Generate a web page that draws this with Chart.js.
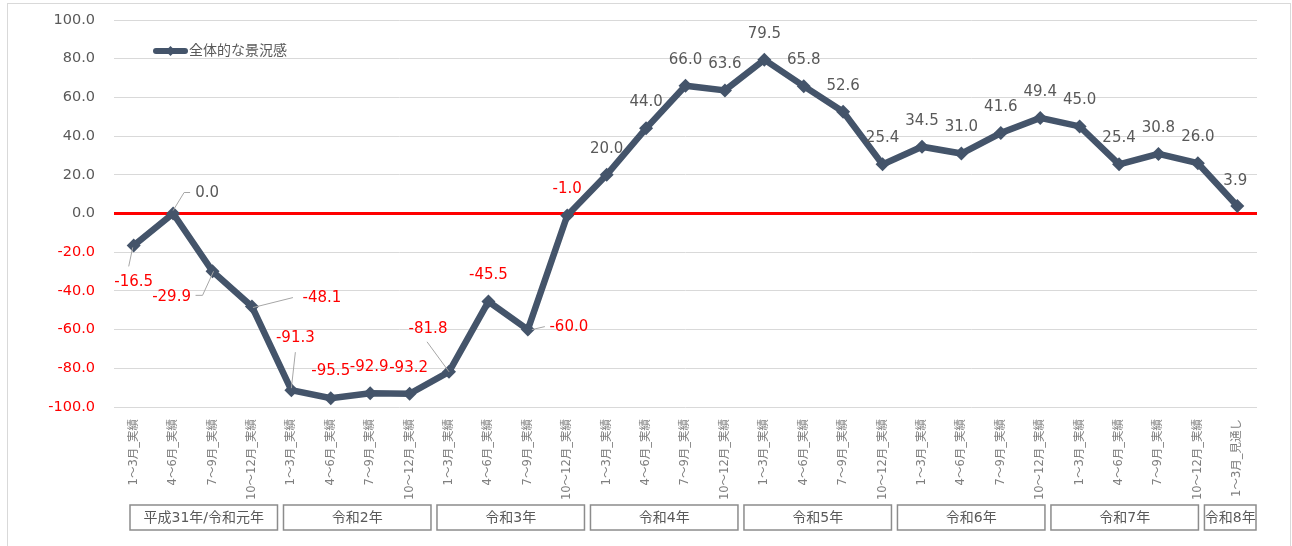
<!DOCTYPE html>
<html>
<head>
<meta charset="utf-8">
<script src="https://cdn.jsdelivr.net/npm/chart.js@4.4.0/dist/chart.umd.min.js"></script>
<style>
  body { margin: 0; background: #fff; }
  #wrap { position: relative; width: 1292px; height: 546px; }
</style>
</head>
<body>
<div id="wrap"><canvas id="dichart" width="1292" height="546"></canvas></div>
<script>
// 四半期ラベル
const quarters = [
    '1～3月_実績', '4～6月_実績', '7～9月_実績', '10～12月_実績',
    '1～3月_実績', '4～6月_実績', '7～9月_実績', '10～12月_実績',
    '1～3月_実績', '4～6月_実績', '7～9月_実績', '10～12月_実績',
    '1～3月_実績', '4～6月_実績', '7～9月_実績', '10～12月_実績',
    '1～3月_実績', '4～6月_実績', '7～9月_実績', '10～12月_実績',
    '1～3月_実績', '4～6月_実績', '7～9月_実績', '10～12月_実績',
    '1～3月_実績', '4～6月_実績', '7～9月_実績', '10～12月_実績',
    '1～3月_見通し'
];
const years = ['平成31年/令和元年', '令和2年', '令和3年', '令和4年', '令和5年', '令和6年', '令和7年', '令和8年'];
const yearCounts = [4, 4, 4, 4, 4, 4, 4, 1];
const diValues = [
    -16.5, 0.0, -29.9, -48.1,
    -91.3, -95.5, -92.9, -93.2,
    -81.8, -45.5, -60.0, -1.0,
    20.0, 44.0, 66.0, 63.6,
    79.5, 65.8, 52.6, 25.4,
    34.5, 31.0, 41.6, 49.4,
    45.0, 25.4, 30.8, 26.0,
    3.9
];
const seriesName = '全体的な景況感';

// label placement (dx, dy from the point) and leader lines, styling only
const labelShift = {
    0: [0, 37], 1: [34, -20], 2: [-41, 26], 3: [70, -8], 4: [4, -52],
    5: [0, -27], 6: [-1, -26], 7: [-1, -26], 8: [-21, -43], 10: [41, -2],
    28: [-2, -25]
};
const leaders = {
    0: [[-5, 21], [-1, 2]],
    1: [[17, -21], [11, -21], [0, -3]],
    2: [[-17, 24], [-10, 24], [1, 0]],
    3: [[41, -9], [1, 1]],
    4: [[4, -38], [0, -2]],
    8: [[-22, -30], [0, 0]],
    10: [[17, -3], [4, 0]]
};

const GRAY = '#595959';
const RED = '#ff0000';
const LINE = '#44546a';
const FONT = '"DejaVu Sans", "Noto Sans CJK JP", sans-serif';

const extras = {
    id: 'extras',
    beforeDraw(chart) {
        const c = chart.ctx;
        c.save();
        c.strokeStyle = '#d9d9d9';
        c.lineWidth = 1;
        c.strokeRect(7.5, 3.5, 1283, 600);
        c.restore();
    },
    afterDatasetsDraw(chart) {
        const c = chart.ctx;
        const meta = chart.getDatasetMeta(0);
        c.save();
        // leader lines
        c.strokeStyle = '#a6a6a6';
        c.lineWidth = 1;
        Object.keys(leaders).forEach(function(k) {
            const p = meta.data[k];
            const pts = leaders[k];
            c.beginPath();
            pts.forEach(function(q, j) {
                if (j === 0) c.moveTo(p.x + q[0], p.y + q[1]);
                else c.lineTo(p.x + q[0], p.y + q[1]);
            });
            c.stroke();
        });
        // data labels
        c.font = '15px ' + FONT;
        c.textAlign = 'center';
        c.textBaseline = 'middle';
        meta.data.forEach(function(p, i) {
            const v = diValues[i];
            const s = labelShift[i] || [0, -26];
            c.fillStyle = v < 0 ? RED : GRAY;
            c.fillText(v.toFixed(1), p.x + s[0], p.y + s[1]);
        });
        // legend
        c.strokeStyle = LINE;
        c.fillStyle = LINE;
        c.lineWidth = 6;
        c.lineCap = 'round';
        c.beginPath();
        c.moveTo(156, 51);
        c.lineTo(185, 51);
        c.stroke();
        c.beginPath();
        c.moveTo(170.5, 46);
        c.lineTo(175.5, 51);
        c.lineTo(170.5, 56);
        c.lineTo(165.5, 51);
        c.closePath();
        c.fill();
        c.fillStyle = GRAY;
        c.textAlign = 'left';
        c.font = '14px ' + FONT;
        c.fillText(seriesName, 189, 51);
        // year boxes
        const xs = chart.scales.x;
        const x0 = xs.left + 16;
        const x1 = xs.right + 5;
        const w = yearCounts.map(function(n) { return Math.max(n, 1.5); });
        const total = w.reduce(function(a, b) { return a + b; }, 0);
        const unit = (x1 - x0) / total;
        let cur = x0;
        c.strokeStyle = '#8c8c8c';
        c.lineWidth = 1.5;
        c.textAlign = 'center';
        years.forEach(function(y, i) {
            const bw = w[i] * unit - 6;
            c.strokeRect(cur, 505, bw, 25);
            c.fillStyle = GRAY;
            c.fillText(y, cur + bw / 2, 518);
            cur += w[i] * unit;
        });
        c.restore();
    }
};

new Chart(document.getElementById('dichart'), {
    type: 'line',
    data: {
        labels: quarters,
        datasets: [{
            label: seriesName,
            data: diValues,
            borderColor: LINE,
            backgroundColor: LINE,
            borderWidth: 6.5,
            pointStyle: 'rectRot',
            pointRadius: 7,
            pointBorderWidth: 0,
            tension: 0
        }]
    },
    options: {
        responsive: false,
        animation: false,
        layout: { padding: { left: 0, right: 35, top: 20, bottom: 0 } },
        plugins: {
            legend: { display: false },
            tooltip: { enabled: false }
        },
        scales: {
            x: {
                offset: true,
                grid: { display: false },
                border: { display: false },
                ticks: {
                    autoSkip: false,
                    maxRotation: 90,
                    minRotation: 90,
                    padding: 4,
                    color: '#7f7f7f',
                    font: { size: 11.5, family: FONT }
                },
                afterFit: function(s) { s.height = 139; }
            },
            y: {
                min: -100,
                max: 100,
                border: { display: false },
                grid: {
                    drawTicks: false,
                    color: function(ctx) { return ctx.tick && ctx.tick.value === 0 ? RED : '#d9d9d9'; },
                    lineWidth: function(ctx) { return ctx.tick && ctx.tick.value === 0 ? 3 : 1; }
                },
                ticks: {
                    stepSize: 20,
                    padding: 19,
                    font: { size: 14.5, family: FONT },
                    color: function(ctx) { return ctx.tick.value < 0 ? RED : GRAY; },
                    callback: function(v) { return v.toFixed(1); }
                },
                afterFit: function(s) {
                    s.width = 114;
                    s.paddingTop = 9;
                    s.paddingBottom = 9;
                }
            }
        }
    },
    plugins: [extras]
});
</script>
</body>
</html>
